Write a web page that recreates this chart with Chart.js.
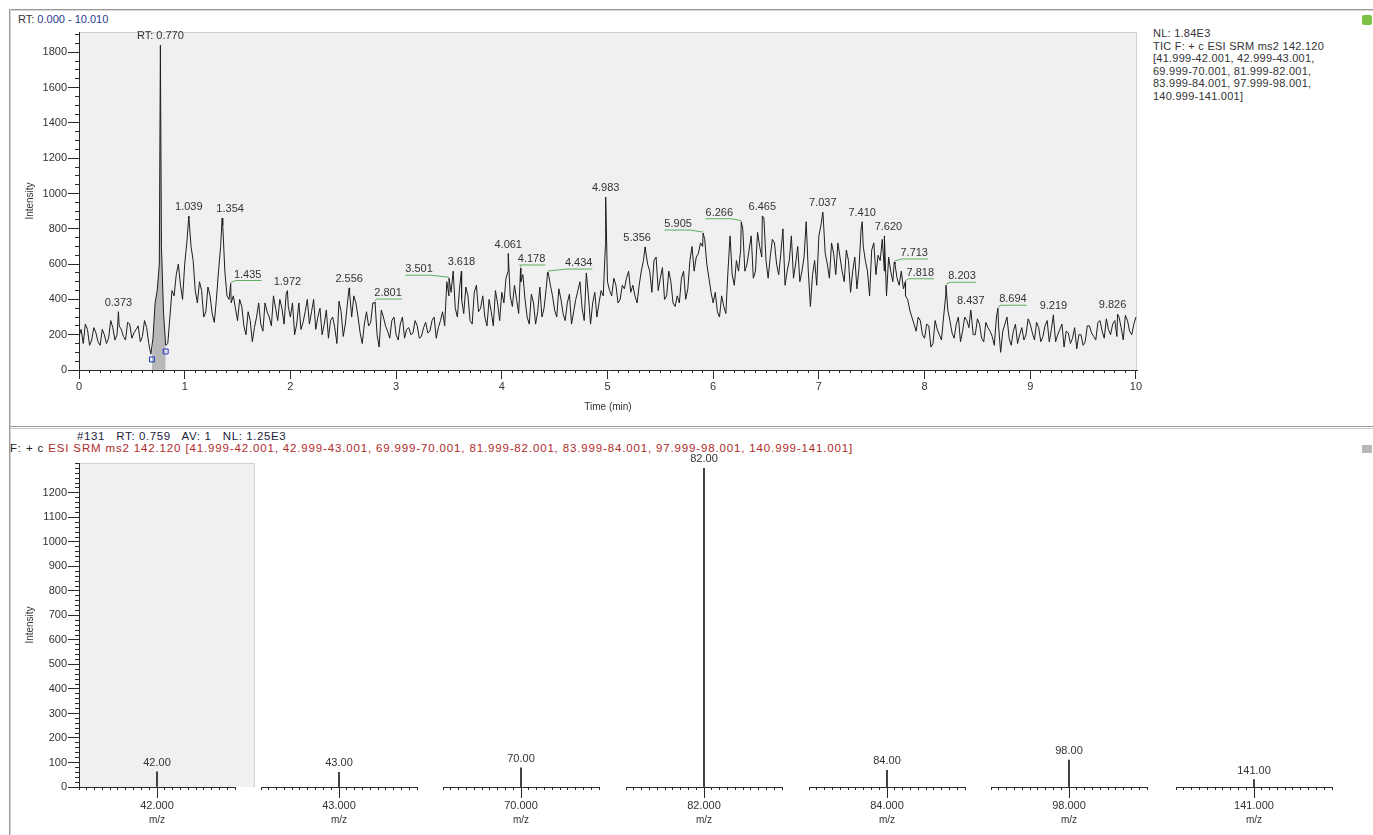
<!DOCTYPE html>
<html>
<head>
<meta charset="utf-8">
<script src="https://cdn.jsdelivr.net/npm/chart.js@4.4.1/dist/chart.umd.min.js"></script>
<style>
  body { margin: 0; background: #fff; width: 1373px; height: 835px; overflow: hidden; position: relative;
         font-family: "Liberation Sans", Arial, sans-serif; font-size: 11px; color: #333; }
  canvas { position: absolute; left: 0; }
  .t { position: absolute; white-space: nowrap; line-height: 13px; }
  .ln { position: absolute; }
</style>
</head>
<body>
<!-- window frame -->
<div class="ln" style="left:10px;top:9px;width:1363px;height:0;border-top:1px solid #9a9a9a;border-bottom:1px solid #d6d6d6"></div>
<div class="ln" style="left:9px;top:9px;width:0;height:826px;border-left:1px solid #9a9a9a;border-right:1px solid #d6d6d6"></div>
<div class="ln" style="left:10px;top:426px;width:1363px;height:1px;border-top:1px solid #9a9a9a;border-bottom:1px solid #c8c8c8"></div>
<div class="ln" style="left:1362px;top:15px;width:10px;height:10px;background:#7cc242;border-radius:2px"></div>
<div class="ln" style="left:1362px;top:445px;width:10px;height:8px;background:#b8b8b8"></div>

<div class="t" style="left:18px;top:13px">RT: <span style="color:#2b3990">0.000 - 10.010</span></div>
<div class="t" style="left:196px;top:81px">HYGRINE</div>
<div class="t" style="left:1153px;top:27px;line-height:12.6px;letter-spacing:0.25px">NL: 1.84E3<br>TIC F: + c ESI SRM ms2 142.120<br>[41.999-42.001, 42.999-43.001,<br>69.999-70.001, 81.999-82.001,<br>83.999-84.001, 97.999-98.001,<br>140.999-141.001]</div>

<div class="t" style="left:77px;top:430px;color:#1c1c3c;font-size:11.5px;letter-spacing:0.6px">#131&nbsp;&nbsp; RT: 0.759&nbsp;&nbsp; AV: 1&nbsp;&nbsp; NL: 1.25E3</div>
<div class="t" style="left:10px;top:442px;color:#222;font-size:11.5px;letter-spacing:0.85px">F: + c <span style="color:#b02a2a">ESI SRM ms2 142.120 [41.999-42.001, 42.999-43.001, 69.999-70.001, 81.999-82.001, 83.999-84.001, 97.999-98.001, 140.999-141.001]</span></div>

<!-- highlighted first spectrum window -->
<div class="ln" style="left:80px;top:463px;width:174px;height:323px;background:#f0f0f0;border-top:1px solid #d2d2d2;border-right:1px solid #d2d2d2"></div>

<canvas id="tic" width="1373" height="425" style="top:0"></canvas>
<div id="ms"></div>

<script>
// TIC trace, one reading every 0.04 min (0.00 .. 10.00)
const ticStep = 0.04;
const ticTrace = [
  190,150,230,170,210,140,200,180,240,200,230,170,260,210,250,190,240,90,380,600,320,150,450,540,480,
  600,860,620,380,450,330,420,270,560,820,420,380,350,400,250,330,160,300,260,380,300,420,280,350,430,
  300,200,380,270,400,330,230,350,260,180,300,150,330,260,440,420,300,150,330,270,380,130,300,220,280,
  200,260,180,240,210,250,190,270,220,300,240,330,500,440,350,460,320,420,260,480,350,300,400,250,380,
  440,520,420,480,320,540,300,430,260,470,350,550,420,300,400,280,430,330,450,350,550,260,440,380,420,
  500,420,480,400,460,560,480,380,560,680,560,620,450,580,420,500,360,380,560,460,700,640,720,740,520,
  380,330,420,320,760,480,560,800,600,760,560,700,860,520,740,600,660,480,620,520,700,560,840,360,620,
  760,880,600,720,540,640,500,620,560,460,800,620,420,720,650,740,420,560,600,480,460,400,300,220,280,
  180,250,150,230,170,420,280,180,300,220,280,330,200,260,160,240,190,300,100,260,180,220,150,240,200,
  260,170,240,190,280,230,160,230,130,210,180,120,200,160,250,190,270,220,290,200,280,300,170,280,200,300
];
// readings half-way between the ones above (0.02 .. 9.98)
const ticTraceMid = [
  230,260,140,240,160,230,150,280,170,250,190,270,180,230,160,280,150,180,450,700,140,300,420,600,400,
  720,700,450,500,300,470,320,400,700,560,400,420,280,360,200,280,240,380,220,330,250,350,400,260,360,
  380,260,230,330,260,400,300,200,340,280,240,390,190,380,300,380,210,260,250,380,200,340,250,180,300,
  170,300,230,200,280,180,240,210,280,180,280,250,420,560,300,400,470,280,440,330,420,250,330,450,280,
  380,560,360,400,500,400,260,380,330,300,460,480,340,460,320,380,260,400,500,280,420,380,300,450,700,
  450,520,380,480,520,440,420,480,620,600,440,640,520,400,560,380,420,520,400,620,560,660,700,600,440,
  440,300,360,560,540,620,680,560,680,520,780,640,620,640,720,540,800,560,760,600,500,640,560,540,480,
  820,660,520,660,720,560,680,440,640,580,700,560,680,540,620,560,640,500,520,560,420,340,260,300,200,
  260,130,280,200,300,340,210,260,160,300,240,200,290,180,270,220,140,250,220,300,140,260,200,170,290,
  210,270,160,250,160,300,200,260,220,150,240,200,140,250,210,170,280,180,230,260,190,240,310,220,260
];
// labelled apexes (min, counts)
const peakRT  = [0.373, 0.770, 1.039, 1.354, 1.435, 1.972, 2.556, 2.801, 3.501, 3.618, 4.061, 4.178, 4.434, 4.983,
                 5.356, 5.905, 6.266, 6.465, 7.037, 7.410, 7.620, 7.713, 7.818, 8.203, 8.437, 8.694, 9.219, 9.826];
const peakTIC = [330, 1840, 870, 860, 490, 450, 465, 385, 520, 560, 660, 578, 555, 980,
                 697, 776, 840, 873, 895, 840, 760, 612, 500, 480, 340, 350, 312, 317];
// integration limits of the hygrine peak
const limitRT  = [0.69, 0.82];
const limitTIC = [60, 105];
const ticXTicks = [0, 1, 2, 3, 4, 5, 6, 7, 8, 9, 10];
const ticYTicks = [0, 200, 400, 600, 800, 1000, 1200, 1400, 1600, 1800];

// SRM spectrum at scan #131
const massMZ  = [42, 43, 70, 82, 84, 98, 141];
const massInt = [62, 60, 78, 1300, 68, 110, 30];
const msYTicks = [0, 100, 200, 300, 400, 500, 600, 700, 800, 900, 1000, 1100, 1200];

// label shifts where the software pushed a label aside (px)
const labelShift = [0, 0, 0, 8, 17, 0, 0, 13, -30, 0, 0, 11, 31, 0, -8, -25, -22, 0, 0, 0, 4, 20, 15, 16, 0, 15, 0, -5];

Chart.defaults.font.family = '"Liberation Sans", Arial, sans-serif';
Chart.defaults.font.size = 11;
Chart.defaults.color = '#333';
const ink = '#2a2a2a';

function steps(from, to, step) {
  const out = [];
  for (let k = 0; from + k * step <= to + step / 1000; k++) out.push(+(from + k * step).toFixed(6));
  return out;
}

function minorAxis(pos, min, max, ticks, len, fit) {
  return {
    type: 'linear', position: pos, min: min, max: max, offset: false,
    afterBuildTicks: s => { s.ticks = ticks.map(v => ({ value: v })); },
    afterFit: fit,
    ticks: { display: false, autoSkip: false },
    grid: { drawOnChartArea: false, drawTicks: true, tickLength: len, color: ink, offset: false },
    border: { display: true, color: ink, width: 1 }
  };
}

function labelAxis(pos, min, max, ticks, len, fmt, title, titlePad, fit) {
  return {
    type: 'linear', position: pos, min: min, max: max, offset: false,
    afterBuildTicks: s => { s.ticks = ticks.map(v => ({ value: v })); },
    afterFit: fit,
    ticks: { autoSkip: false, maxRotation: 0, padding: 1, color: '#333', callback: fmt },
    grid: { drawOnChartArea: false, tickLength: len, color: ink, offset: false },
    border: { display: false },
    title: { display: !!title, text: title, font: { size: 10 }, color: '#333', padding: titlePad }
  };
}

// ---------- chromatogram ----------
const ticPoints = ticTrace.map((v, k) => ({ x: +(k * ticStep).toFixed(2), y: v }))
  .concat(ticTraceMid.map((v, k) => ({ x: +(k * ticStep + ticStep / 2).toFixed(2), y: v })))
  .concat(peakRT.map((t, i) => ({ x: t, y: peakTIC[i] })))
  .sort((a, b) => a.x - b.x);
const areaPoints = [{ x: limitRT[0], y: limitTIC[0] }]
  .concat(ticPoints.filter(p => p.x > limitRT[0] && p.x < limitRT[1]))
  .concat([{ x: limitRT[1], y: limitTIC[1] }]);

const plotBg = {
  id: 'plotBg',
  beforeDraw(chart) {
    const { ctx, chartArea: a } = chart;
    ctx.save();
    ctx.fillStyle = '#f0f0f0';
    ctx.fillRect(a.left, a.top, a.right - a.left, a.bottom - a.top);
    ctx.strokeStyle = '#cfcfcf';
    ctx.beginPath();
    ctx.moveTo(a.left, a.top + 0.5); ctx.lineTo(a.right - 0.5, a.top + 0.5); ctx.lineTo(a.right - 0.5, a.bottom);
    ctx.stroke();
    ctx.restore();
  }
};

const peakLabels = {
  id: 'peakLabels',
  afterDatasetsDraw(chart) {
    const { ctx, scales: { x, y } } = chart;
    const top = Math.max(...peakTIC);
    ctx.save();
    ctx.font = '11px "Liberation Sans", Arial, sans-serif';
    ctx.textAlign = 'center';
    ctx.textBaseline = 'middle';
    peakRT.forEach((rt, i) => {
      const px = x.getPixelForValue(rt), py = y.getPixelForValue(peakTIC[i]);
      const txt = peakTIC[i] === top ? 'RT: ' + rt.toFixed(3) : rt.toFixed(3);
      const lx = px + labelShift[i], ly = py - 9;
      if (Math.abs(labelShift[i]) > 9) {
        const w = ctx.measureText(txt).width;
        const ex = labelShift[i] > 0 ? lx - w / 2 + 2 : lx + w / 2 - 2;
        ctx.strokeStyle = '#5fae5f';
        ctx.lineWidth = 1;
        ctx.beginPath();
        ctx.moveTo(px, py - 1);
        ctx.lineTo(ex, ly + 6);
        ctx.lineTo(labelShift[i] > 0 ? lx + w / 2 : lx - w / 2, ly + 6);
        ctx.stroke();
      }
      ctx.fillStyle = '#333';
      ctx.fillText(txt, lx, ly);
    });
    ctx.restore();
  }
};

new Chart(document.getElementById('tic'), {
  type: 'line',
  data: {
    datasets: [
      { data: ticPoints, borderColor: '#1e1e1e', borderWidth: 1, pointRadius: 0, tension: 0, order: 1 },
      { data: areaPoints, borderWidth: 0, borderColor: 'rgba(0,0,0,0)', backgroundColor: '#b8b8b8',
        fill: 'origin', pointRadius: 0, order: 2 },
      { data: limitRT.map((t, i) => ({ x: t, y: limitTIC[i] })), showLine: false, pointStyle: 'rect',
        pointRadius: 3.5, borderColor: '#2236c8', backgroundColor: 'rgba(0,0,0,0)', borderWidth: 1, order: 0 }
    ]
  },
  options: {
    responsive: false, animation: false, devicePixelRatio: 1,
    layout: { padding: { top: 32, right: 236, left: 0, bottom: 0 } },
    plugins: { legend: { display: false }, tooltip: { enabled: false } },
    scales: {
      x: minorAxis('bottom', 0, 10.01, steps(0, 10, 0.1), 3, s => { s.height = 3; }),
      xt: labelAxis('bottom', 0, 10.01, ticXTicks, 6, v => String(v), 'Time (min)', { top: 0, bottom: 12 },
                    s => { s.height = 52; }),
      y: minorAxis('left', 0, 1915, steps(0, 1900, 50), 4, s => { s.width = 4; }),
      yt: labelAxis('left', 0, 1915, ticYTicks, 7, v => String(v), 'Intensity', { top: 24, bottom: 0 },
                    s => { s.width = 75; })
    }
  },
  plugins: [plotBg, peakLabels]
});

// ---------- spectrum, one window per transition ----------
const segLeft = [79, 261, 443, 626, 809, 991, 1176];
const segWidth = 156;

massMZ.forEach((mz, i) => {
  const cv = document.createElement('canvas');
  cv.width = 1373; cv.height = 395;
  cv.style.top = '440px';
  document.getElementById('ms').appendChild(cv);
  const lo = mz - 0.001, hi = mz + 0.001;
  const first = i === 0;
  const stickLabel = {
    id: 'stickLabel',
    afterDatasetsDraw(chart) {
      const { ctx } = chart;
      const bar = chart.getDatasetMeta(0).data[0];
      ctx.save();
      ctx.font = '11px "Liberation Sans", Arial, sans-serif';
      ctx.fillStyle = '#333';
      ctx.textAlign = 'center';
      ctx.textBaseline = 'middle';
      ctx.fillText(mz.toFixed(2), bar.x, bar.y - 9);
      ctx.restore();
    }
  };
  const scales = {
    x: minorAxis('bottom', lo, hi, steps(lo, hi, 0.0001), 3, s => { s.height = 3; }),
    xt: labelAxis('bottom', lo, hi, [mz], 8, v => v.toFixed(3), 'm/z', { top: 0, bottom: 9 },
                  s => { s.height = 45; }),
    y: Object.assign(minorAxis('left', 0, 1322, steps(0, 1320, 20), 4, s => { s.width = first ? 4 : 0; }),
                     { display: first }),
    yt: Object.assign(labelAxis('left', 0, 1322, msYTicks, 7, v => String(v), 'Intensity', { top: 24, bottom: 0 },
                  s => { s.width = first ? 75 : 0; }), { display: first })
  };
  new Chart(cv, {
    type: 'bar',
    data: { datasets: [{ data: [{ x: mz, y: massInt[i] }], backgroundColor: '#1e1e1e', barThickness: 1,
                         borderWidth: 0 }] },
    options: {
      responsive: false, animation: false, devicePixelRatio: 1,
      layout: { padding: { top: 23, bottom: 0, left: first ? 0 : segLeft[i],
                           right: 1373 - segLeft[i] - segWidth } },
      plugins: { legend: { display: false }, tooltip: { enabled: false } },
      scales: scales
    },
    plugins: [stickLabel]
  });
});
</script>
</body>
</html>
